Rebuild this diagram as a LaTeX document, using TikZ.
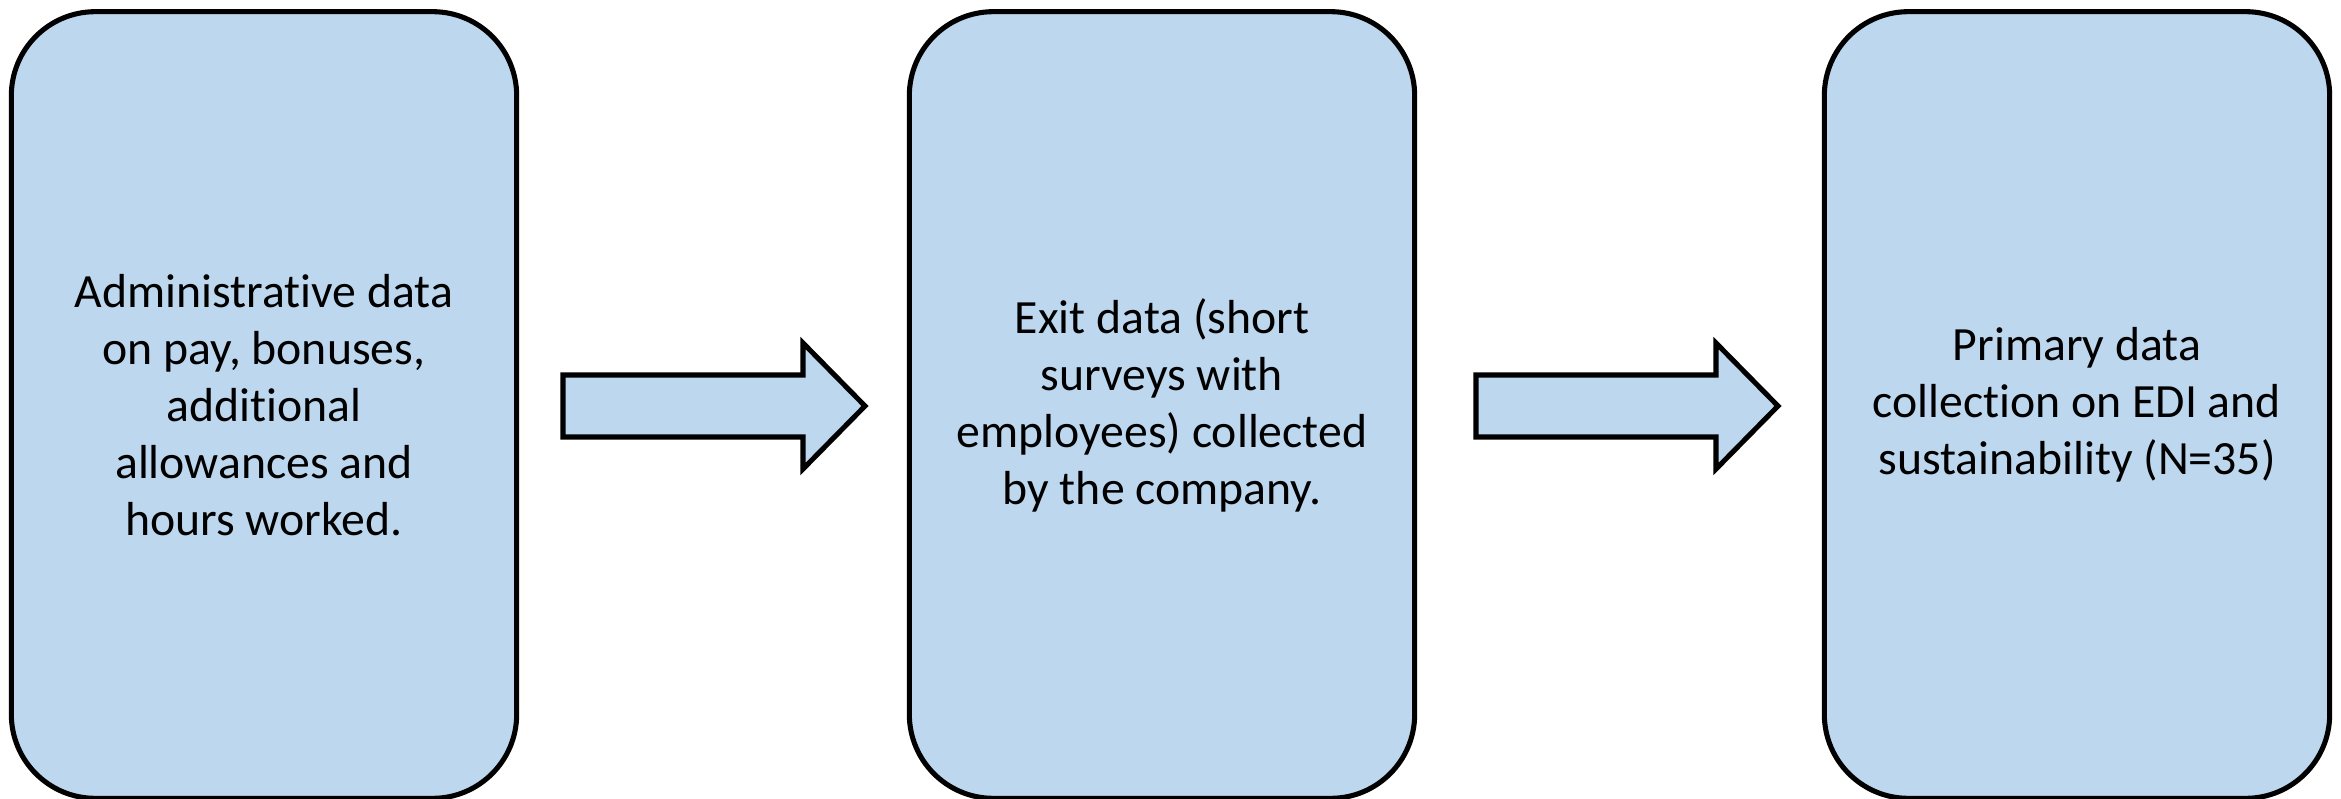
\documentclass[tikz,border=0pt]{standalone}
\usepackage{fontspec}
\setmainfont{Carlito}[RawFeature=-liga]
\usetikzlibrary{calc}
\definecolor{boxblue}{HTML}{BDD7EE}
\begin{document}
\begin{tikzpicture}[x=0.75pt,y=-0.75pt,
  box/.style={draw=black,line width=3.8pt,fill=boxblue,rounded corners=63pt,
    minimum width=379pt,minimum height=590pt,align=center,
    font=\fontsize{35.8}{42.75}\selectfont},
  blockarrow/.style={draw=black,line width=3.8pt,fill=boxblue,line join=miter}]
\useasboundingbox (0,0) rectangle (2341,799);
\node[box] (b1) at (264,405) {Administrative data\\on pay, bonuses,\\additional\\allowances and\\hours worked.};
\node[box] (b2) at (1162,405) {Exit data (short\\surveys with\\employees) collected\\by the company.};
\node[box] (b3) at (2077,405) {Primary data\\collection on EDI and\\sustainability (N=35)};
\draw[blockarrow] (563,375) -- (803,375) -- (803,343) -- (865,406) -- (803,469) -- (803,437) -- (563,437) -- cycle;
\draw[blockarrow] (1476,375) -- (1716,375) -- (1716,343) -- (1778,406) -- (1716,469) -- (1716,437) -- (1476,437) -- cycle;
\end{tikzpicture}
\end{document}
